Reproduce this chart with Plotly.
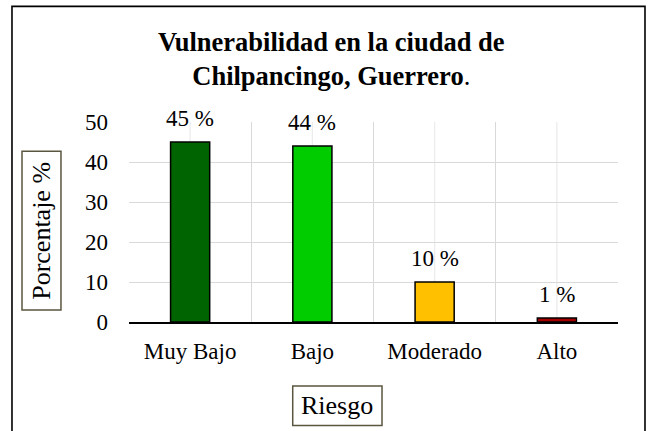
import plotly.graph_objects as go

# Risk levels and their share of the city (percent)
categorias = ["Muy Bajo", "Bajo", "Moderado", "Alto"]
porcentajes = [45, 44, 10, 1]
colores = ["#006400", "#00cc00", "#ffc000", "#a50000"]
ticks_y = [0, 10, 20, 30, 40, 50]

FONT = "Liberation Serif"

fig = go.Figure()
fig.add_trace(go.Bar(
    x=categorias,
    y=porcentajes,
    width=0.32,
    marker=dict(color=colores, line=dict(color="black", width=1.5)),
    hoverinfo="skip",
))

# Value labels above each bar
for cat, val in zip(categorias, porcentajes):
    fig.add_annotation(
        x=cat, y=val, xref="x", yref="y",
        text=f"{val} %", showarrow=False,
        yanchor="middle", yshift=24,
        font=dict(family=FONT, size=23, color="black"),
    )

# Light gridline through the centre of each category
for cat in categorias:
    fig.add_shape(
        type="line", xref="x", yref="paper",
        x0=cat, x1=cat, y0=0, y1=1,
        line=dict(color="#ececec", width=1.3), layer="below",
    )

# Title
fig.add_annotation(
    xref="paper", yref="paper", x=0.415, y=1.316,
    text="<b>Vulnerabilidad en la ciudad de<br>Chilpancingo, Guerrero</b>.",
    showarrow=False, xanchor="center", yanchor="middle",
    font=dict(family=FONT, size=26.5, color="black"),
)

# Y axis title in a box
fig.add_shape(
    type="rect", xref="paper", yref="paper",
    x0=-0.2188, x1=-0.1391, y0=0.0603, y1=0.8543,
    line=dict(color="#5b5640", width=1.5), fillcolor="white",
)
fig.add_annotation(
    xref="paper", yref="paper", x=-0.1794, y=0.4573,
    text="Porcentaje %", textangle=-90, showarrow=False,
    xanchor="center", yanchor="middle",
    font=dict(family=FONT, size=26, color="black"),
)

# X axis title in a box
fig.add_shape(
    type="rect", xref="paper", yref="paper",
    x0=0.3348, x1=0.5174, y0=-0.5176, y1=-0.3201,
    line=dict(color="#5b5640", width=1.5), fillcolor="white",
)
fig.add_annotation(
    xref="paper", yref="paper", x=0.4261, y=-0.4196,
    text="Riesgo", showarrow=False,
    xanchor="center", yanchor="middle",
    font=dict(family=FONT, size=26, color="black"),
)

# Outer frame of the chart
fig.add_shape(
    type="rect", xref="paper", yref="paper",
    x0=-0.2393, x1=1.0552, y0=-0.62, y1=1.5779,
    line=dict(color="black", width=1.6),
)

fig.update_layout(
    width=650, height=431,
    margin=dict(l=129, r=32, t=122, b=109),
    paper_bgcolor="white", plot_bgcolor="white",
    showlegend=False,
    font=dict(family=FONT, size=23, color="black"),
    xaxis=dict(
        type="category",
        tickson="boundaries",
        showgrid=True, gridcolor="#d9d9d9", gridwidth=1.3,
        showline=True, linecolor="black", linewidth=1.5,
        ticks="", ticklabelstandoff=8,
        tickfont=dict(family=FONT, size=23, color="black"),
    ),
    yaxis=dict(
        range=[0, 50], tickvals=ticks_y,
        showgrid=True, gridcolor="#d9d9d9", gridwidth=1.3,
        zeroline=False, showline=False,
        ticks="", ticklabelstandoff=20,
        tickfont=dict(family=FONT, size=23, color="black"),
    ),
)

fig.write_html("out.html")
